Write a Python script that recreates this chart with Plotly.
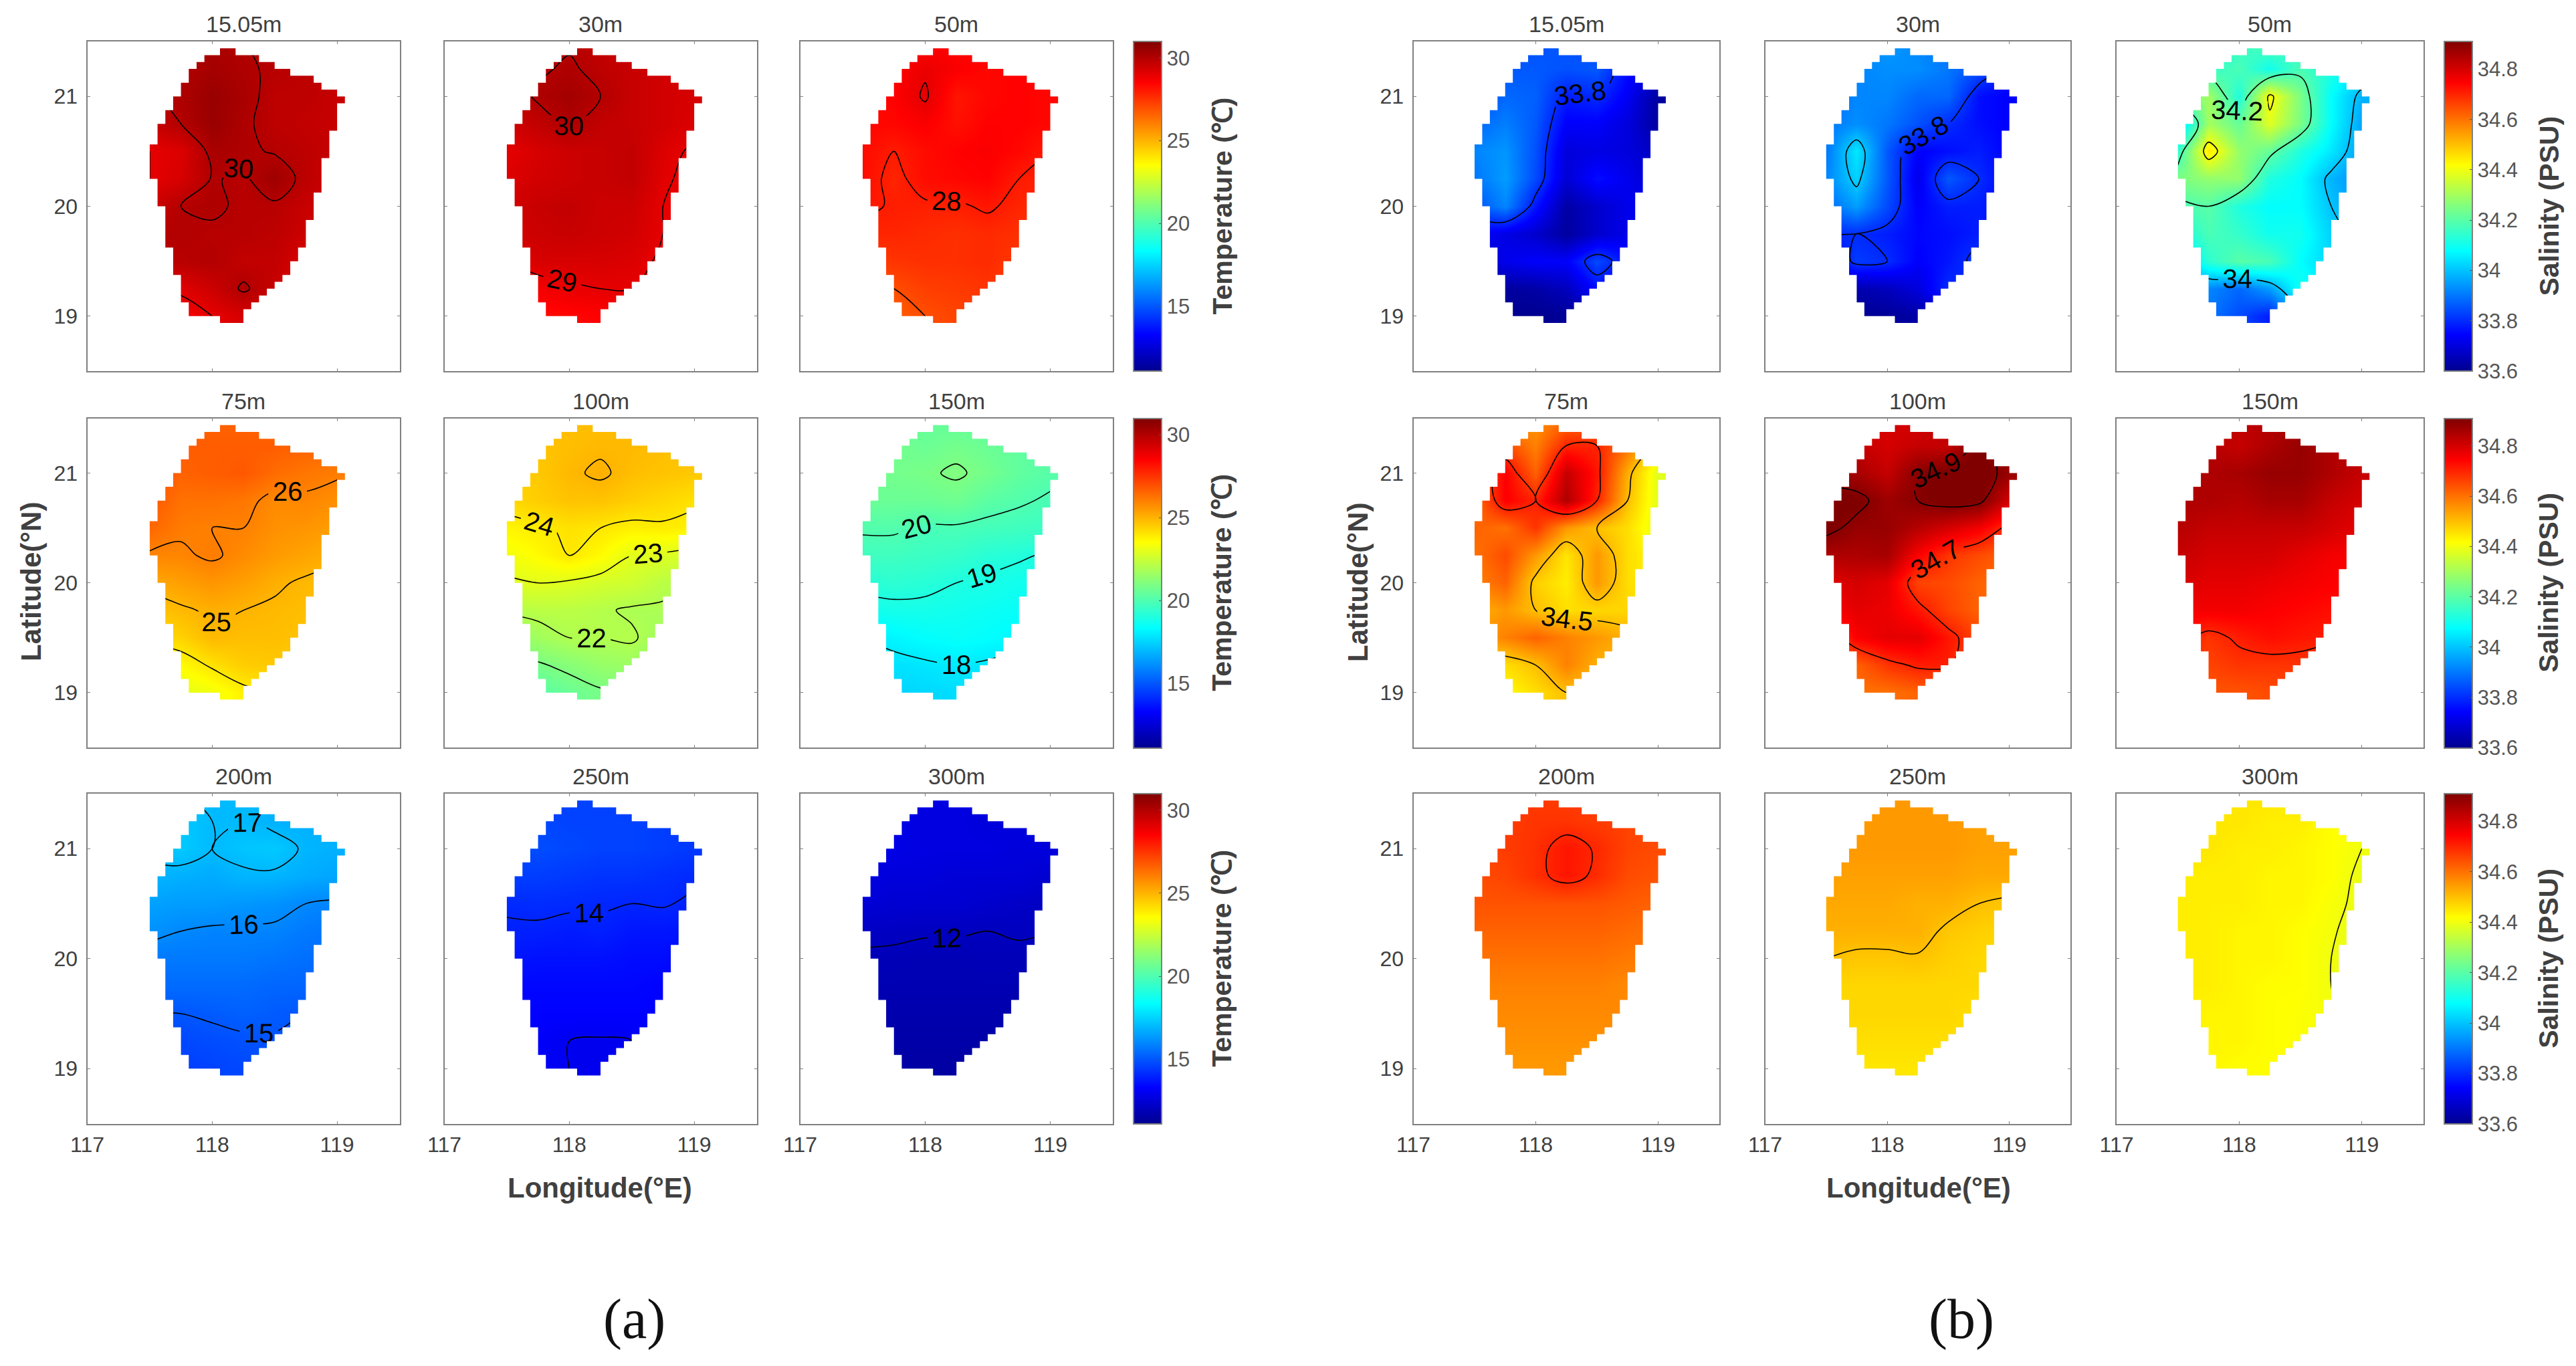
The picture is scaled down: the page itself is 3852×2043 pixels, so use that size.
import plotly.graph_objects as go

# ---------- data ----------
lon_nodes = [117.5, 117.75, 118.0, 118.25, 118.5, 118.75, 119.0]
lat_nodes = [21.5, 21.25, 21.0, 20.75, 20.5, 20.25, 20.0, 19.75, 19.5, 19.25, 19.0]

depths = ["15.05m", "30m", "50m", "75m", "100m", "150m", "200m", "250m", "300m"]

T_15 = [[30.0,30.0,30.2,30.0,29.9,29.8,29.7],[30.0,30.0,30.3,30.1,29.9,29.8,29.7],[29.9,30.1,30.5,30.2,29.8,29.8,29.6],
        [29.6,30.0,30.5,30.1,29.8,29.7,29.6],[29.0,29.2,30.2,30.1,29.95,29.8,29.6],[29.0,29.3,30.05,29.9,30.4,29.8,29.5],
        [29.5,30.0,30.1,29.9,29.9,29.6,29.4],[30.0,30.0,29.9,29.9,29.8,29.5,29.3],[29.8,29.9,30.0,29.7,29.7,29.2,29.0],
        [29.0,29.1,29.5,30.1,29.6,29.0,28.9],[28.6,28.7,29.0,29.3,29.2,28.9,28.8]]
T_30 = [[29.8,29.9,29.9,29.7,29.5,29.4,29.3],[29.8,29.9,30.1,29.8,29.6,29.4,29.3],[29.6,30.1,30.3,30.0,29.6,29.4,29.3],
        [29.5,29.7,30.1,29.7,29.6,29.4,29.2],[29.0,29.3,29.5,29.6,29.7,29.2,28.9],[29.2,29.4,29.5,29.6,29.7,29.1,28.8],
        [29.4,29.6,29.7,29.5,29.5,29.0,28.8],[29.4,29.5,29.6,29.5,29.4,29.0,28.8],[29.0,29.3,29.3,29.3,29.2,28.9,28.7],
        [28.6,28.7,28.9,29.0,29.0,28.7,28.6],[28.3,28.3,28.4,28.5,28.6,28.5,28.4]]
T_50 = [[28.3,28.4,28.5,28.5,28.4,28.4,28.3],[28.4,28.5,28.9,28.6,28.4,28.5,28.4],[28.3,28.5,29.1,28.1,28.4,28.5,28.4],
        [28.4,28.4,28.6,28.2,28.5,28.5,28.4],[28.3,28.0,28.3,28.5,28.6,28.4,28.0],[28.3,27.8,28.3,28.4,28.5,28.0,27.9],
        [28.1,27.95,27.9,27.9,28.1,27.8,27.7],[27.8,27.8,27.7,27.6,27.7,27.6,27.5],[27.3,27.5,27.6,27.6,27.7,27.4,27.3],
        [26.8,27.0,27.3,27.4,27.5,27.2,26.9],[26.5,26.7,27.0,27.2,27.2,27.0,26.8]]
T_75 = [[26.8,26.7,26.6,26.6,26.5,26.4,26.3],[26.8,26.7,26.7,26.7,26.7,26.6,26.3],[26.9,26.6,26.7,26.8,26.4,26.2,26.1],
        [26.8,26.3,26.3,26.2,25.8,25.9,25.7],[26.5,26.1,26.0,26.0,25.7,25.6,25.4],[25.9,25.9,26.1,25.8,25.5,25.3,25.1],
        [25.2,25.4,25.6,25.4,25.1,24.9,24.8],[24.6,24.9,25.1,25.0,24.9,24.8,24.7],[24.2,24.4,24.9,24.8,24.8,24.7,24.6],
        [23.2,23.6,24.1,24.5,24.6,24.4,24.2],[22.8,23.0,23.3,23.8,24.0,24.0,24.0]]
T_100 = [[25.0,24.9,24.8,24.8,24.8,24.7,24.6],[24.6,24.7,24.8,24.9,24.9,24.8,24.7],[24.4,24.6,24.9,25.1,24.8,24.7,24.6],
         [24.3,24.5,24.7,24.7,24.5,24.3,24.1],[23.7,23.9,24.1,24.0,23.8,23.9,23.8],[23.3,23.6,24.0,23.6,23.0,22.9,22.7],
         [22.9,23.0,22.9,22.7,22.6,22.2,22.0],[22.1,22.2,22.2,22.1,21.9,21.9,21.7],[21.4,21.7,22.0,22.0,22.1,21.6,21.5],
         [20.6,20.9,21.2,21.5,21.6,21.3,21.2],[19.8,20.2,20.6,20.9,21.0,21.0,21.0]]
T_150 = [[20.8,20.7,20.5,20.4,20.3,20.2,20.1],[20.8,20.8,20.6,20.8,20.6,20.4,20.2],[20.7,20.8,20.9,21.1,20.8,20.4,20.2],
         [20.6,20.6,20.6,20.7,20.3,20.1,19.9],[20.1,20.1,19.9,19.9,19.8,19.7,19.6],[19.7,19.7,19.6,19.5,19.2,19.1,18.9],
         [19.2,19.3,19.2,19.0,18.9,18.7,18.6],[18.7,18.8,18.8,18.7,18.6,18.5,18.4],[18.0,18.2,18.4,18.5,18.4,18.2,18.1],
         [17.6,17.8,17.9,18.0,17.9,17.8,17.7],[17.3,17.5,17.6,17.7,17.7,17.6,17.5]]
T_200 = [[17.0,17.0,17.0,17.0,16.9,16.8,16.7],[17.2,17.3,17.0,17.0,16.8,16.8,16.8],[17.1,17.3,17.0,17.2,17.3,16.9,16.8],
         [16.9,16.8,16.7,16.9,16.9,16.7,16.6],[16.5,16.4,16.4,16.3,16.2,16.0,15.9],[16.2,16.0,15.9,15.9,15.9,15.7,15.6],
         [15.7,15.7,15.7,15.7,15.6,15.5,15.4],[15.4,15.4,15.4,15.4,15.3,15.3,15.2],[15.0,15.0,15.1,15.2,15.1,15.0,15.0],
         [14.7,14.7,14.8,14.9,14.95,14.8,14.8],[14.5,14.5,14.6,14.7,14.8,14.8,14.8]]
T_250 = [[14.6,14.6,14.6,14.6,14.5,14.5,14.4],[14.7,14.7,14.6,14.6,14.6,14.5,14.4],[14.7,14.8,14.7,14.6,14.6,14.5,14.4],
         [14.5,14.5,14.4,14.3,14.3,14.2,14.1],[14.1,14.15,14.1,14.05,14.0,14.05,13.9],[13.9,13.9,13.8,13.9,13.7,13.7,13.6],
         [13.7,13.6,13.6,13.6,13.5,13.5,13.5],[13.4,13.4,13.4,13.4,13.4,13.3,13.3],[13.3,13.3,13.3,13.3,13.3,13.3,13.3],
         [13.2,13.2,13.0,12.95,13.0,13.1,13.2],[13.1,13.1,13.0,12.95,13.1,13.1,13.1]]
T_300 = [[12.7,12.7,12.7,12.7,12.7,12.6,12.6],[12.8,12.8,12.7,12.7,12.6,12.6,12.6],[12.8,12.8,12.7,12.7,12.7,12.6,12.6],
         [12.7,12.6,12.6,12.5,12.5,12.5,12.4],[12.5,12.4,12.4,12.4,12.3,12.2,12.1],[12.15,12.1,12.05,12.05,12.0,12.05,12.0],
         [11.9,11.9,11.85,11.85,11.9,11.9,11.9],[11.8,11.8,11.8,11.8,11.8,11.8,11.8],[11.7,11.7,11.7,11.7,11.7,11.7,11.7],
         [11.6,11.6,11.6,11.6,11.6,11.6,11.6],[11.5,11.5,11.5,11.5,11.5,11.5,11.5]]

S_15 = [[33.85,33.85,33.85,33.86,33.84,33.74,33.66],[33.84,33.86,33.86,33.85,33.86,33.76,33.7],[33.84,33.88,33.87,33.78,33.8,33.73,33.62],
        [33.88,33.91,33.86,33.74,33.74,33.7,33.62],[33.92,33.94,33.85,33.7,33.71,33.7,33.66],[33.9,33.95,33.84,33.69,33.76,33.72,33.68],
        [33.85,33.92,33.77,33.63,33.68,33.72,33.72],[33.74,33.71,33.68,33.62,33.68,33.72,33.74],[33.66,33.72,33.74,33.74,33.84,33.76,33.72],
        [33.61,33.62,33.63,33.66,33.76,33.7,33.65],[33.6,33.6,33.6,33.61,33.62,33.62,33.62]]
S_30 = [[33.9,33.92,33.95,33.92,33.9,33.85,33.75],[33.9,33.92,33.93,33.93,33.9,33.85,33.76],[33.88,33.92,33.92,33.88,33.88,33.76,33.74],
        [33.9,33.93,33.9,33.85,33.8,33.76,33.74],[33.9,34.05,33.86,33.74,33.76,33.78,33.74],[33.92,34.02,33.86,33.72,33.86,33.8,33.74],
        [33.88,33.95,33.84,33.74,33.78,33.78,33.74],[33.8,33.8,33.78,33.75,33.76,33.78,33.74],[33.72,33.82,33.8,33.74,33.77,33.82,33.8],
        [33.62,33.64,33.66,33.7,33.8,33.78,33.74],[33.6,33.6,33.61,33.63,33.66,33.66,33.66]]
S_50 = [[34.1,34.1,34.15,34.2,34.15,34.1,34.05],[34.12,34.15,34.18,34.1,34.18,34.12,34.05],[34.2,34.3,34.12,34.42,34.25,34.08,33.98],
        [34.0,34.3,34.22,34.38,34.25,34.08,33.96],[34.15,34.45,34.28,34.22,34.12,34.05,33.95],[34.25,34.28,34.28,34.12,34.08,33.98,33.93],
        [34.18,34.2,34.12,34.08,34.08,34.0,33.95],[34.1,34.18,34.15,34.1,34.1,34.02,33.98],[33.98,34.14,34.2,34.18,34.08,34.02,34.0],
        [33.95,33.92,33.88,33.95,34.1,34.05,34.0],[33.95,33.9,33.84,33.78,33.95,34.0,34.0]]
S_75 = [[34.55,34.55,34.55,34.6,34.6,34.55,34.45],[34.6,34.65,34.58,34.7,34.7,34.6,34.45],[34.62,34.75,34.62,34.82,34.72,34.52,34.38],
        [34.6,34.75,34.7,34.85,34.7,34.5,34.38],[34.62,34.6,34.68,34.55,34.5,34.46,34.38],[34.6,34.65,34.55,34.45,34.55,34.46,34.42],
        [34.58,34.62,34.48,34.44,34.55,34.46,34.44],[34.52,34.55,34.5,34.46,34.47,34.47,34.45],[34.55,34.58,34.62,34.58,34.55,34.52,34.5],
        [34.45,34.46,34.5,34.58,34.52,34.5,34.5],[34.4,34.42,34.46,34.5,34.5,34.48,34.48]]
S_100 = [[34.8,34.8,34.8,34.8,34.85,34.85,34.85],[34.82,34.82,34.8,34.82,34.82,34.92,34.85],[34.88,34.86,34.82,34.9,34.92,34.93,34.88],
         [34.92,34.92,34.87,34.9,34.93,34.92,34.8],[34.92,34.88,34.88,34.84,34.8,34.76,34.68],[34.85,34.85,34.86,34.75,34.68,34.65,34.62],
         [34.78,34.8,34.78,34.66,34.65,34.62,34.6],[34.75,34.78,34.77,34.72,34.66,34.62,34.6],[34.65,34.75,34.78,34.78,34.72,34.66,34.62],
         [34.6,34.62,34.68,34.71,34.71,34.64,34.6],[34.58,34.6,34.6,34.62,34.62,34.6,34.58]]
S_150 = [[34.82,34.84,34.83,34.84,34.86,34.84,34.82],[34.82,34.84,34.82,34.85,34.88,34.85,34.82],[34.84,34.85,34.86,34.88,34.88,34.85,34.82],
         [34.85,34.85,34.84,34.86,34.86,34.82,34.8],[34.84,34.82,34.82,34.82,34.82,34.8,34.78],[34.82,34.8,34.8,34.8,34.78,34.76,34.75],
         [34.8,34.78,34.78,34.77,34.76,34.75,34.74],[34.76,34.76,34.76,34.75,34.74,34.73,34.72],[34.72,34.68,34.71,34.73,34.72,34.71,34.7],
         [34.68,34.66,34.68,34.68,34.68,34.66,34.66],[34.64,34.64,34.64,34.65,34.65,34.64,34.64]]
S_200 = [[34.66,34.67,34.67,34.67,34.66,34.66,34.65],[34.66,34.67,34.68,34.68,34.67,34.66,34.65],[34.66,34.67,34.685,34.72,34.695,34.66,34.65],
         [34.65,34.66,34.685,34.72,34.69,34.65,34.64],[34.64,34.64,34.64,34.64,34.64,34.63,34.62],[34.62,34.62,34.62,34.62,34.62,34.61,34.6],
         [34.6,34.6,34.6,34.6,34.6,34.59,34.59],[34.58,34.58,34.58,34.58,34.58,34.57,34.57],[34.57,34.57,34.57,34.57,34.57,34.57,34.57],
         [34.56,34.56,34.56,34.56,34.56,34.56,34.56],[34.55,34.55,34.55,34.55,34.55,34.55,34.55]]
S_250 = [[34.55,34.55,34.55,34.55,34.55,34.54,34.54],[34.55,34.55,34.55,34.55,34.55,34.54,34.54],[34.55,34.55,34.55,34.55,34.55,34.54,34.54],
         [34.54,34.54,34.54,34.54,34.54,34.53,34.53],[34.53,34.53,34.53,34.52,34.52,34.5,34.49],[34.52,34.52,34.52,34.52,34.49,34.48,34.47],
         [34.5,34.49,34.49,34.495,34.48,34.47,34.46],[34.47,34.47,34.47,34.47,34.47,34.47,34.46],[34.47,34.47,34.47,34.47,34.47,34.46,34.46],
         [34.46,34.46,34.46,34.46,34.46,34.46,34.46],[34.45,34.45,34.45,34.45,34.45,34.45,34.45]]
S_300 = [[34.45,34.45,34.45,34.45,34.44,34.42,34.41],[34.45,34.45,34.45,34.44,34.44,34.42,34.41],[34.45,34.45,34.44,34.44,34.43,34.42,34.40],
         [34.44,34.44,34.44,34.43,34.43,34.42,34.39],[34.44,34.44,34.44,34.43,34.43,34.41,34.39],[34.44,34.44,34.43,34.43,34.42,34.405,34.38],
         [34.44,34.44,34.43,34.43,34.42,34.4,34.38],[34.44,34.44,34.43,34.42,34.42,34.4,34.38],[34.44,34.43,34.43,34.42,34.415,34.405,34.38],
         [34.43,34.43,34.43,34.42,34.415,34.405,34.38],[34.43,34.43,34.42,34.42,34.415,34.405,34.38]]

T_PANELS = [T_15, T_30, T_50, T_75, T_100, T_150, T_200, T_250, T_300]
S_PANELS = [S_15, S_30, S_50, S_75, S_100, S_150, S_200, S_250, S_300]

T_LEVELS = [(29, 30, 1), (29, 30, 1), (27, 29, 1), (23, 26, 1), (21, 25, 1), (18, 21, 1), (15, 17, 1), (13, 14, 1), (12, 12, 1)]
S_LEVELS = [(33.8, 33.8, 0.2), (33.8, 34.0, 0.2), (34.0, 34.4, 0.2), (34.5, 34.9, 0.2), (34.7, 34.9, 0.2),
            (34.7, 34.7, 0.2), (34.7, 34.7, 0.2), (34.5, 34.5, 0.2), (34.4, 34.4, 0.2)]

T_RANGE = (11.1, 31.0)
S_RANGE = (33.6, 34.91)
T_TICKS = [15, 20, 25, 30]
S_TICKS = [33.6, 33.8, 34.0, 34.2, 34.4, 34.6, 34.8]
S_TICKTEXT = ["33.6", "33.8", "34", "34.2", "34.4", "34.6", "34.8"]

# survey-area outline: one row per 1/16 degree of latitude, north to south
mask_lat_top = 21.4375
mask_lat_step = 0.0625
mask_west = [118.0625,117.9375,117.875,117.8125,117.8125,117.75,117.75,117.6875,117.6875,117.625,117.625,117.5625,117.5625,117.5625,
             117.5,117.5,117.5,117.5,117.5,117.5625,117.5625,117.5625,117.5625,117.625,117.625,117.625,117.625,117.625,117.625,
             117.6875,117.6875,117.6875,117.6875,117.75,117.75,117.75,117.75,117.8125,117.8125,118.0625]
mask_east = [118.1875,118.375,118.5,118.625,118.8125,118.875,119.0,119.0625,119.0,119.0,119.0,119.0,118.9375,118.9375,118.9375,118.9375,
             118.875,118.875,118.875,118.875,118.875,118.8125,118.8125,118.8125,118.8125,118.75,118.75,118.75,118.75,118.6875,118.6875,
             118.625,118.625,118.5625,118.5,118.4375,118.375,118.3125,118.25,118.25]

# ---------- layout constants (pixels of the 3852x2043 page) ----------
W, H = 3852, 2043
ROWS = [(62, 555), (625.5, 1118), (1187, 1680.5)]
LEFT_COLS = [(130.5, 597.5), (664.5, 1131.5), (1196.5, 1664)]
RIGHT_COLS = [(2113.5, 2571), (2639.5, 3096), (3165, 3623.5)]
FONT = "Liberation Sans"
TXT = "#404040"
FRAME = "#808080"


def jet():
    return [[0.0, "rgb(0,0,143)"], [0.11, "rgb(0,0,255)"], [0.365, "rgb(0,255,255)"], [0.5, "rgb(128,255,128)"],
            [0.625, "rgb(255,255,0)"], [0.875, "rgb(255,0,0)"], [1.0, "rgb(128,0,0)"]]


def mask_path():
    xs = [117, 119.5, 119.5, 117, 117]
    ys = [18.5, 18.5, 21.5, 21.5, 18.5]
    n = len(mask_west)
    wx, wy, ex, ey = [], [], [], []
    for i in range(n):
        top, bot = mask_lat_top - i * mask_lat_step, mask_lat_top - (i + 1) * mask_lat_step
        wx += [mask_west[i], mask_west[i]]
        wy += [top, bot]
        ex += [mask_east[i], mask_east[i]]
        ey += [top, bot]
    ring_x = (wx + ex[::-1] + [wx[0]])[::-1]
    ring_y = (wy + ey[::-1] + [wy[0]])[::-1]
    return xs + ring_x + [117], ys + ring_y + [18.5]


fig = go.Figure()
annots = []
layout = {}
MX, MY = mask_path()
ax = 0


def add_group(panels, levels, cols, vrange, ticks, ticktext, fmt, cbar_x, cbar_title, title_x):
    global ax
    for r, (y0, y1) in enumerate(ROWS):
        for c, (x0, x1) in enumerate(cols):
            ax += 1
            k = r * 3 + c
            xn, yn = f"x{ax}", f"y{ax}"
            last = c == 2
            cb = None
            if last:
                cb = dict(x=cbar_x / W, xanchor="left", xpad=0, y=1 - y0 / H, yanchor="top", ypad=0,
                          len=y1 - y0, lenmode="pixels", thickness=42, thicknessmode="pixels",
                          outlinecolor=FRAME, outlinewidth=2, tickmode="array", tickvals=ticks, ticktext=ticktext,
                          ticks="inside", ticklen=5, tickcolor="#555555", tickwidth=1,
                          tickfont=dict(family=FONT, size=31, color="#555555"))
            fig.add_trace(go.Heatmap(x=lon_nodes, y=lat_nodes, z=panels[k], zsmooth="best", colorscale=jet(),
                                     zmin=vrange[0], zmax=vrange[1], showscale=last, colorbar=cb,
                                     hoverinfo="skip", xaxis=xn, yaxis=yn))
            s, e, d = levels[k]
            fig.add_trace(go.Contour(x=lon_nodes, y=lat_nodes, z=panels[k], showscale=False, hoverinfo="skip",
                                     autocontour=False, contours=dict(coloring="none", start=s, end=e, size=d, showlabels=True,
                                                   labelformat=fmt, labelfont=dict(family=FONT, size=40, color="black")),
                                     line=dict(color="black", width=1.6, smoothing=1.0), xaxis=xn, yaxis=yn))
            fig.add_trace(go.Scatter(x=MX, y=MY, mode="lines", fill="toself", fillcolor="white",
                                     line=dict(width=0, color="white"), hoverinfo="skip", showlegend=False,
                                     xaxis=xn, yaxis=yn))
            sfx = "" if ax == 1 else str(ax)
            layout["xaxis" + sfx] = dict(domain=[x0 / W, x1 / W], range=[117, 119.5], anchor=yn, tickmode="array",
                                         tickvals=[117, 118, 119], showticklabels=r == 2, ticks="inside", ticklen=4,
                                         tickcolor=FRAME, showgrid=False, zeroline=False, mirror="ticks", showline=True,
                                         linecolor=FRAME, linewidth=2, ticklabelstandoff=2,
                                         tickfont=dict(family=FONT, size=32, color=TXT))
            layout["yaxis" + sfx] = dict(domain=[1 - y1 / H, 1 - y0 / H], range=[18.5, 21.5], anchor=xn, tickmode="array",
                                         tickvals=[19, 20, 21], showticklabels=c == 0, ticks="inside", ticklen=4,
                                         tickcolor=FRAME, showgrid=False, zeroline=False, mirror="ticks", showline=True,
                                         linecolor=FRAME, linewidth=2, ticklabelstandoff=6,
                                         tickfont=dict(family=FONT, size=32, color=TXT))
            annots.append(dict(text=depths[k], x=(x0 + x1) / 2 / W, y=1 - (y0 - 26) / H, xref="paper", yref="paper",
                               xanchor="center", yanchor="middle", showarrow=False,
                               font=dict(family=FONT, size=34, color=TXT)))
        annots.append(dict(text=f"<b>{cbar_title}</b>", x=title_x / W, y=1 - (y0 + y1) / 2 / H, xref="paper", yref="paper",
                           xanchor="center", yanchor="middle", textangle=-90, showarrow=False,
                           font=dict(family=FONT, size=41, color=TXT)))


add_group(T_PANELS, T_LEVELS, LEFT_COLS, T_RANGE, T_TICKS, [str(t) for t in T_TICKS], "d", 1694.5, "Temperature (℃)", 1827)
add_group(S_PANELS, S_LEVELS, RIGHT_COLS, S_RANGE, S_TICKS, S_TICKTEXT, ".3~f", 3654.5, "Salinity (PSU)", 3811)


def label(text, x, y, size, angle=0, family=FONT, color=TXT):
    annots.append(dict(text=text, x=x / W, y=1 - y / H, xref="paper", yref="paper", xanchor="center", yanchor="middle",
                       textangle=angle, showarrow=False, font=dict(family=family, size=size, color=color)))


label("<b>Latitude(°N)</b>", 46, 870, 42, -90)
label("<b>Latitude(°N)</b>", 2030, 871, 42, -90)
label("<b>Longitude(°E)</b>", 897, 1776, 42)
label("<b>Longitude(°E)</b>", 2869, 1776, 42)
label("(a)", 948, 1973, 84, family="Liberation Serif", color="#111111")
label("(b)", 2933, 1973, 84, family="Liberation Serif", color="#111111")

fig.update_layout(width=W, height=H, margin=dict(l=0, r=0, t=0, b=0, pad=0, autoexpand=False), paper_bgcolor="white",
                  plot_bgcolor="white", showlegend=False, annotations=annots, **layout)
fig.write_html("out.html", post_script="document.body.style.margin='0';", config=dict(displayModeBar=False))
